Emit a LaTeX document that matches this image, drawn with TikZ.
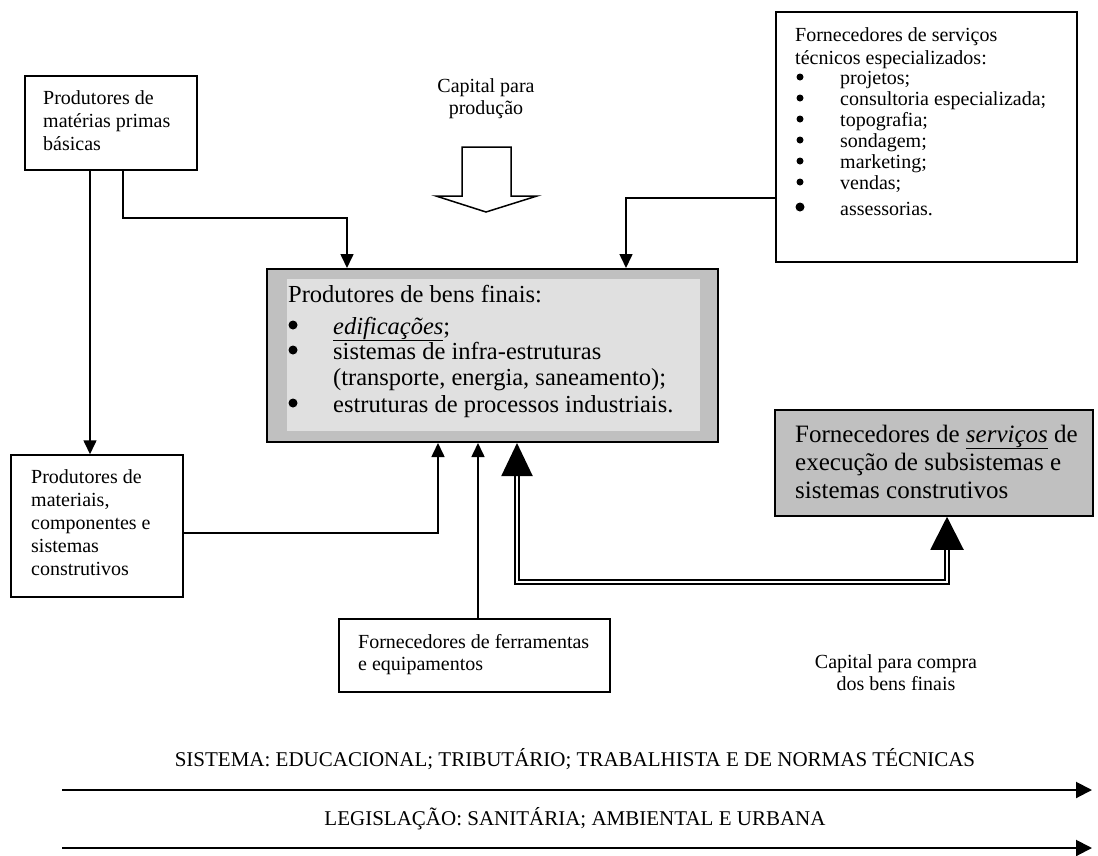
\documentclass[tikz,border=0pt]{standalone}
\usepackage{fontspec}
\setmainfont{Liberation Serif}
\usetikzlibrary{arrows.meta}
\definecolor{shadegray}{HTML}{C0C0C0}
\definecolor{lightgray}{HTML}{E0E0E0}
\begin{document}
\begin{tikzpicture}[x=1pt,y=-1pt,
  box/.style={draw, line width=1.5pt, inner sep=0pt},
  t20/.style={anchor=base west, inner sep=0pt, font=\fontsize{20}{23}\selectfont},
  t21/.style={anchor=base, inner sep=0pt, font=\fontsize{21}{24}\selectfont},
  t24/.style={anchor=base west, inner sep=0pt, font=\fontsize{24.5}{27}\selectfont},
  t25/.style={anchor=base west, inner sep=0pt, font=\fontsize{25}{28}\selectfont},
  c20/.style={anchor=base, inner sep=0pt, font=\fontsize{20}{23}\selectfont},
  dot/.style={circle, fill, inner sep=0pt, minimum size=#1},
  con/.style={line width=1.6pt, -{Triangle[width=13pt,length=14pt]}},
  dbl/.style={double, double distance=2pt, line width=2pt,
    {Triangle[width=31pt,length=33pt]}-{Triangle[width=33pt,length=33pt]}},
  band/.style={line width=2pt, -{Triangle[width=16pt,length=16pt]}}
]
\useasboundingbox (0,0) rectangle (1098,855);

% boxes
\node[box, minimum width=172, minimum height=94] (A) at (111,123) {};
\node[box, minimum width=301, minimum height=250] (T) at (926.5,137) {};
\node[box, fill=shadegray, line width=2pt, minimum width=451, minimum height=173] (M) at (492.5,355.5) {};
\node[fill=lightgray, inner sep=0pt, minimum width=413, minimum height=152] (Mi) at (493.5,355) {};
\node[box, minimum width=172, minimum height=142] (C) at (97,526) {};
\node[box, fill=shadegray, minimum width=318, minimum height=106] (S) at (934,463) {};
\node[box, minimum width=271, minimum height=73] (F) at (474.5,655.5) {};

% raw materials
\node[t20] (a1) at (43,104) {Produtores de};
\node[t20] (a2) at (43,127) {matérias primas};
\node[t20] (a3) at (43,150) {básicas};

% materials and components
\node[t20] (c1) at (31,483) {Produtores de};
\node[t20] (c2) at (31,506) {materiais,};
\node[t20] (c3) at (31,529) {componentes e};
\node[t20] (c4) at (31,552) {sistemas};
\node[t20] (c5) at (31,575) {construtivos};

% technical services
\node[t20] (t1) at (795,41) {Fornecedores de serviços};
\node[t20] (t2) at (795,64) {técnicos especializados:};
\node[dot=7] (tb1) at (800,77) {};  \node[t20] (ti1) at (840,84) {projetos;};
\node[dot=7] (tb2) at (800,98) {};  \node[t20] (ti2) at (840,105) {consultoria especializada;};
\node[dot=7] (tb3) at (800,119) {}; \node[t20] (ti3) at (840,126) {topografia;};
\node[dot=7] (tb4) at (800,140) {}; \node[t20] (ti4) at (840,147) {sondagem;};
\node[dot=7] (tb5) at (800,161) {}; \node[t20] (ti5) at (840,168) {marketing;};
\node[dot=7] (tb6) at (800,182) {}; \node[t20] (ti6) at (840,189) {vendas;};
\node[dot=9] (tb7) at (800,207) {}; \node[t20] (ti7) at (840,215) {assessorias.};

% final goods
\node[t24] (m1) at (288,302) {Produtores de bens finais:};
\node[dot=9] (mb1) at (293,325) {}; \node[t24] (mi1) at (333,334) {\underline{\textit{edificações}};};
\node[dot=9] (mb2) at (293,350) {}; \node[t24] (mi2) at (333,359) {sistemas de infra-estruturas};
\node[t24] (mi3) at (333,385) {(transporte, energia, saneamento);};
\node[dot=9] (mb3) at (293,403) {}; \node[t24] (mi4) at (333,412) {estruturas de processos industriais.};

% execution services
\node[t25] (s1) at (795,442) {Fornecedores de \underline{\textit{serviços}} de};
\node[t25] (s2) at (795,470) {execução de subsistemas e};
\node[t25] (s3) at (795,498) {sistemas construtivos};

% tools
\node[t20] (f1) at (358,648) {Fornecedores de ferramentas};
\node[t20] (f2) at (358,670) {e equipamentos};

% capital labels
\node[c20] (k1) at (486,92) {Capital para};
\node[c20] (k2) at (486,114) {produção};
\node[c20] (q1) at (896,668) {Capital para compra};
\node[c20] (q2) at (896,690) {dos bens finais};

% production capital block arrow
\draw[line width=1.5pt, fill=white, line join=miter]
  (462,147) -- (511,147) -- (511,196) -- (537,196) -- (486,212)
  -- (436,196) -- (462,196) -- cycle;

% connector bends
\coordinate (ja) at (90,0);
\coordinate (j0) at (123,0);
\coordinate (j1) at (347,218);
\coordinate (j2) at (626,198);
\coordinate (j3) at (438,533);
\coordinate (j4) at (478,0);
\coordinate (j5) at (517,582);
\coordinate (j6) at (947,582);

\draw[con] (A.south -| ja) -- (C.north -| ja);
\draw[con] (A.south -| j0) |- (j1) -- (j1 |- M.north);
\draw[con] (T.west |- j2) -- (j2) -- (j2 |- M.north);
\draw[con] (C.east |- j3) -- (j3) -- (j3 |- M.south);
\draw[con] (F.north -| j4) -- (M.south -| j4);
\draw[dbl] (M.south -| j5) -- (j5) -- (j6) -- (S.south -| j6);

% bottom bands
\node[t21] (l1) at (575,766) {SISTEMA: EDUCACIONAL; TRIBUTÁRIO; TRABALHISTA E DE NORMAS TÉCNICAS};
\node[t21] (l2) at (575,825) {LEGISLAÇÃO: SANITÁRIA; AMBIENTAL E URBANA};
\coordinate (b1s) at (62,790);
\coordinate (b1e) at (1092,790);
\coordinate (b2s) at (62,848);
\coordinate (b2e) at (1092,848);
\draw[band] (b1s) -- (b1e);
\draw[band] (b2s) -- (b2e);
\end{tikzpicture}
\end{document}
